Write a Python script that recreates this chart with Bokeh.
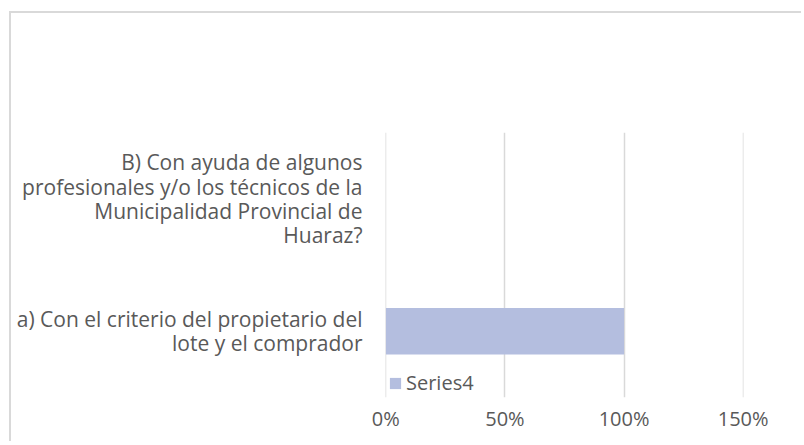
from bokeh.plotting import figure
from bokeh.models import (FactorRange, Range1d, FixedTicker, NumeralTickFormatter,
                          ColumnDataSource, Legend, LegendItem)
from bokeh.embed import file_html
from bokeh.resources import INLINE

# ---- data ----
label_a = ["a) Con el criterio del propietario del", "lote y el comprador"]
label_b = ["B) Con ayuda de algunos", "profesionales y/o los técnicos de la",
           "Municipalidad Provincial de", "Huaraz?"]
categories = ["\n".join(label_a), "\n".join(label_b)]
series4 = [1.0, 0.0]
series_name = "Series4"
x_ticks = [0, 0.5, 1.0, 1.5]

FONT = "Open Sans"
FS = "20px"
TXT = "#595959"
GRID = "#d9d9d9"
BAR = "#b4bedf"

src = ColumnDataSource(dict(cat=categories, val=series4))

p = figure(
    width=792, height=430, title=None,
    y_range=FactorRange(factors=categories),
    x_range=Range1d(-0.0015, 1.5015),
    output_backend="svg", toolbar_location=None,
    min_border_left=374, min_border_right=60, min_border_top=119, min_border_bottom=46,
)
p.styles = {
    "position": "relative", "top": "11px", "left": "9px",
    "border-top": f"2px solid {GRID}", "border-left": f"2px solid {GRID}",
}
p.outline_line_color = None

r = p.hbar(y="cat", right="val", left=0, height=0.352, source=src,
           fill_color=BAR, line_color=None)

# x axis
xaxis = p.xaxis[0]
xaxis.ticker = FixedTicker(ticks=x_ticks)
xaxis.formatter = NumeralTickFormatter(format="0%")
xaxis.axis_line_color = None
xaxis.major_tick_line_color = None
xaxis.minor_tick_line_color = None
xaxis.major_tick_out = 0
xaxis.major_label_standoff = 7
xaxis.major_label_text_font = FONT
xaxis.major_label_text_font_size = FS
xaxis.major_label_text_color = TXT

# y axis
yaxis = p.yaxis[0]
yaxis.axis_line_color = None
yaxis.major_tick_line_color = None
yaxis.minor_tick_line_color = None
yaxis.major_tick_out = 0
yaxis.major_label_standoff = 23
yaxis.major_label_text_font = FONT
yaxis.major_label_text_font_size = "21px"
yaxis.major_label_text_color = TXT
yaxis.major_label_text_line_height = 0.87

# grid
p.xgrid.grid_line_color = GRID
p.xgrid.grid_line_width = 1.5
p.ygrid.grid_line_color = None

# legend at the bottom-left corner of the plot area
lg = Legend(items=[LegendItem(label=series_name, renderers=[r])],
            location=(3, 1), padding=0, margin=0, spacing=0,
            border_line_color=None, background_fill_alpha=0,
            glyph_width=14, glyph_height=14, label_height=14, label_standoff=4,
            label_text_font=FONT, label_text_font_size=FS, label_text_color=TXT)
p.add_layout(lg, "center")

open("out.html", "w").write(file_html(p, INLINE))
